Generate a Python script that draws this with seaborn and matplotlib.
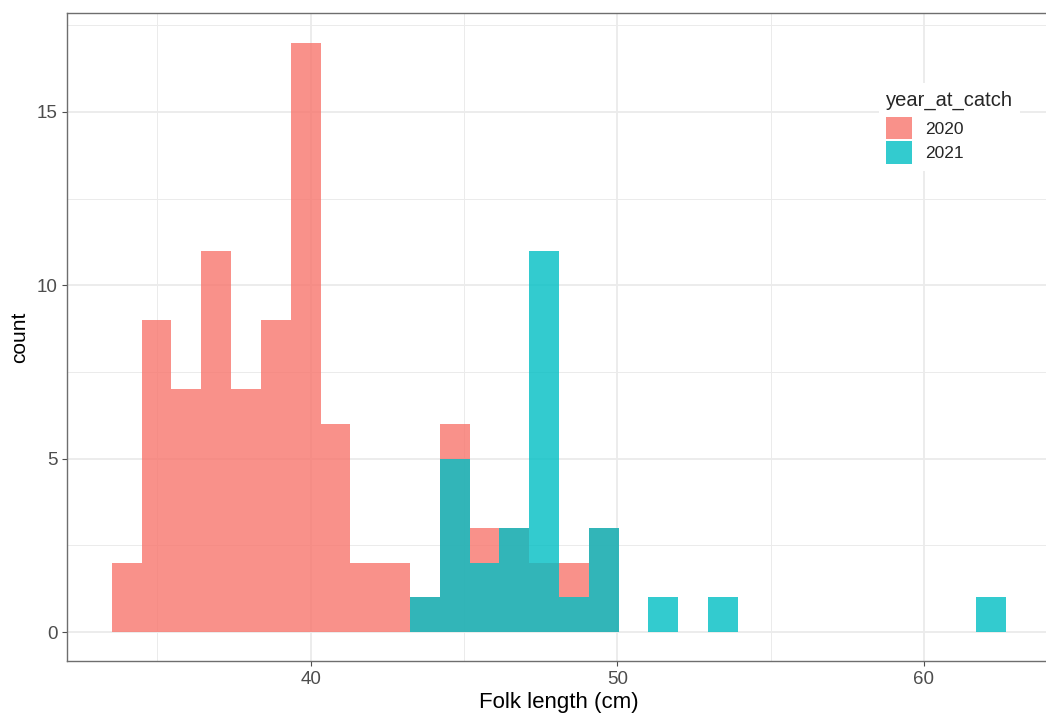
import numpy as np
import pandas as pd
import matplotlib
matplotlib.use("Agg")
import matplotlib.pyplot as plt
from matplotlib.ticker import MultipleLocator
import seaborn as sns

# histogram bins (30 bins, ggplot-style)
bin_start = 33.514
bin_width = 0.9724
n_bins = 30

counts_2020 = [2, 9, 7, 11, 7, 9, 17, 6, 2, 2, 1, 6, 3, 3, 2, 2, 3,
               0, 0, 0, 0, 0, 0, 0, 0, 0, 0, 0, 0, 0]
counts_2021 = [0, 0, 0, 0, 0, 0, 0, 0, 0, 0, 1, 5, 2, 3, 11, 1, 3,
               0, 1, 0, 1, 0, 0, 0, 0, 0, 0, 0, 0, 1]
years = ["2020", "2021"]
colors = ["#F8766D", "#00BFC4"]

centers = bin_start + bin_width * (np.arange(n_bins) + 0.5)
bin_range = (bin_start, bin_start + bin_width * n_bins)

sns.set_style("white")
plt.rcParams["font.family"] = ["Liberation Sans", "DejaVu Sans"]

fig = plt.figure(figsize=(10.46, 7.18), dpi=100)
ax = fig.add_axes([67 / 1046, 0.0787, 984 / 1046, 0.903])

for year, counts, col in zip(years, [counts_2020, counts_2021], colors):
    df = pd.DataFrame({"length": centers, "n": counts})
    sns.histplot(data=df, x="length", weights="n", binwidth=bin_width,
                 binrange=bin_range, color=col, alpha=0.8,
                 linewidth=0, label=year, ax=ax)

ax.set_xlim(32.05, 64.15)
ax.set_ylim(-0.85, 17.85)
ax.xaxis.set_major_locator(MultipleLocator(10))
ax.xaxis.set_minor_locator(MultipleLocator(5))
ax.yaxis.set_major_locator(MultipleLocator(5))
ax.yaxis.set_minor_locator(MultipleLocator(2.5))
ax.grid(which="major", color="#EBEBEB", linewidth=1.3)
ax.grid(which="minor", color="#EBEBEB", linewidth=0.7)
ax.set_axisbelow(True)

for s in ax.spines.values():
    s.set_color("#6E6E6E")
    s.set_linewidth(1.0)

ax.tick_params(which="major", direction="out", length=3.5, width=0.8,
               color="#4D4D4D", labelcolor="#4D4D4D", labelsize=13.5,
               bottom=True, left=True, pad=3)
ax.tick_params(which="minor", length=0)

ax.set_xlabel("Folk length (cm)", fontsize=16, color="black", labelpad=3)
ax.set_ylabel("count", fontsize=15, color="black", labelpad=6)

leg = ax.legend(title="year_at_catch", loc="upper left",
                bbox_to_anchor=(0.816, 0.905), frameon=True, fontsize=12.5,
                title_fontsize=14.5, handlelength=1.5, handleheight=1.65,
                labelspacing=0.1, handletextpad=0.75, borderpad=0.4)
leg.get_frame().set_facecolor("white")
leg.get_frame().set_edgecolor("none")
leg.get_frame().set_alpha(1)
leg._legend_box.align = "left"
leg._legend_box.sep = 5

fig.savefig("out.png", dpi=100)
